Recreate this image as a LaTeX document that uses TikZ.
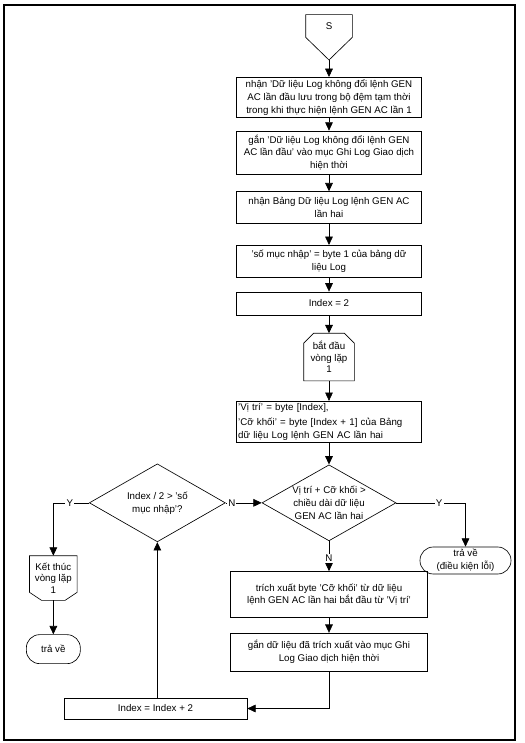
\documentclass[tikz,border=0pt]{standalone}
\usepackage{fontspec}
\setmainfont{Liberation Sans}
\usetikzlibrary{arrows.meta,positioning,shapes.geometric,calc}

\begin{document}
\begin{tikzpicture}[node distance=0.50cm,line width=0.55pt,
    every node/.style={font=\fontsize{8.3}{11}\selectfont},
    box/.style={draw,align=center,minimum width=5.55cm,inner sep=1pt},
    decision/.style={draw,diamond,aspect=1.76,inner sep=0pt,align=center,minimum width=4.02cm,minimum height=2.28cm},
    term/.style={draw,rounded corners=0.4cm,align=center,inner sep=1pt},
    loopbox/.style={align=center,minimum width=1.5cm,minimum height=1.41cm,inner sep=0pt,font=\fontsize{8.3}{9.8}\selectfont},
    flow/.style={-{Triangle[length=2.5mm,width=2.3mm]}},
    lbl/.style={fill=white,inner sep=1pt}]
      \useasboundingbox (0,0) rectangle (15.72,-22.29);
      \draw[line width=0.9pt] (0.12,-0.15) rectangle (15.45,-22.2);

      \node[minimum width=1.38cm,minimum height=0.66cm] (s) at (9.87,-0.78) {S};
      \coordinate (stip) at (9.87,-1.8);
      \draw (s.south west) -- (s.north west) -- (s.north east) -- (s.south east) -- (stip) -- cycle;

      \node[box,minimum height=1.2cm,below=0.51cm of stip] (b1)
        {nhận 'Dữ liệu Log không đổi lệnh GEN\\AC lần đầu lưu trong bộ đệm tạm thời\\trong khi thực hiện lệnh GEN AC lần 1};
      \node[box,minimum height=1.29cm,below=0.39cm of b1] (b2)
        {gắn 'Dữ liệu Log không đổi lệnh GEN\\AC lần đầu' vào mục Ghi Log Giao dịch\\hiện thời};
      \node[box,minimum height=0.96cm,below=0.51cm of b2] (b3)
        {nhận Bảng Dữ liệu Log lệnh GEN AC\\lần hai};
      \node[box,minimum height=0.96cm,below=0.63cm of b3] (b4)
        {'số mục nhập' = byte 1 của bảng dữ\\liệu Log};
      \node[box,minimum height=0.69cm,below=0.42cm of b4] (b5) {Index = 2};
      \node[loopbox,below=0.54cm of b5] (loopA) {bắt đầu\\vòng lặp\\1};
      \draw (loopA.south west) -- ([yshift=-0.3cm]loopA.north west) -- ([xshift=0.3cm]loopA.north west)
        -- ([xshift=-0.3cm]loopA.north east) -- ([yshift=-0.3cm]loopA.north east) -- (loopA.south east) -- cycle;
      \node[box,align=left,text width=5.45cm,minimum height=1.23cm,below=0.6cm of loopA] (b6)
        {'Vị trí' = byte [Index],\\[2pt]'Cỡ khối' = byte [Index + 1] của Bảng\\dữ liệu Log lệnh GEN AC lần hai};
      \node[decision,below=0.66cm of b6] (d1) {Vị trí + Cỡ khối >\\chiều dài dữ liệu\\GEN AC lần hai};
      \node[box,minimum width=5.91cm,minimum height=1.38cm,below=0.9cm of d1] (b7)
        {trích xuất byte 'Cỡ khối' từ dữ liệu\\lệnh GEN AC lần hai bắt đầu từ 'Vị trí'};
      \node[box,minimum width=5.91cm,minimum height=1.14cm,below=0.45cm of b7] (b8)
        {gắn dữ liệu đã trích xuất vào mục Ghi\\Log Giao dịch hiện thời};

      \node[term,minimum width=2.73cm,minimum height=0.81cm] (err) at (13.965,-16.815) {trả về\\(điều kiện lỗi)};
      \node[decision,minimum width=4.08cm,minimum height=2.34cm,left=1.08cm of d1] (d2) {Index / 2 > 'số\\mục nhập'?};
      \node[loopbox,minimum width=1.41cm,minimum height=1.32cm] (loopB) at (1.6,-17.34) {Kết thúc\\vòng lặp\\1};
      \draw (loopB.north west) -- ([yshift=0.24cm]loopB.south west) -- ([xshift=0.36cm]loopB.south west)
        -- ([xshift=-0.36cm]loopB.south east) -- ([yshift=0.24cm]loopB.south east) -- (loopB.north east) -- cycle;
      \node[term,minimum width=1.62cm,minimum height=0.87cm,below=1.02cm of loopB] (ret) {trả về};
      \node[box,minimum width=5.49cm,minimum height=0.63cm] (idx) at (4.665,-21.255) {Index = Index + 2};

      \draw[flow] (stip) -- (b1);
      \draw[flow] (b1) -- (b2);
      \draw[flow] (b2) -- (b3);
      \draw[flow] (b3) -- (b4);
      \draw[flow] (b4) -- (b5);
      \draw[flow] (b5) -- (loopA);
      \draw[flow] (loopA) -- (b6);
      \draw[flow] (b6) -- (d1);
      \draw[flow] (d1) -- node[lbl,pos=0.57] {N} (b7);
      \draw[flow] (d1.east) -| node[lbl,pos=0.31] {Y} (err.north);
      \draw[flow] (b7) -- (b8);
      \draw[flow] (b8.south) |- (idx.east);
      \draw[flow] (idx.north -| d2.south) -- (d2.south);
      \draw[flow] (d2.east) -- node[lbl,pos=0.17] {N} (d1.west);
      \draw[flow] (d2.west) -| node[lbl,pos=0.27] {Y} (loopB.north);
      \draw[flow] (loopB) -- (ret);
    \end{tikzpicture}
\end{document}
